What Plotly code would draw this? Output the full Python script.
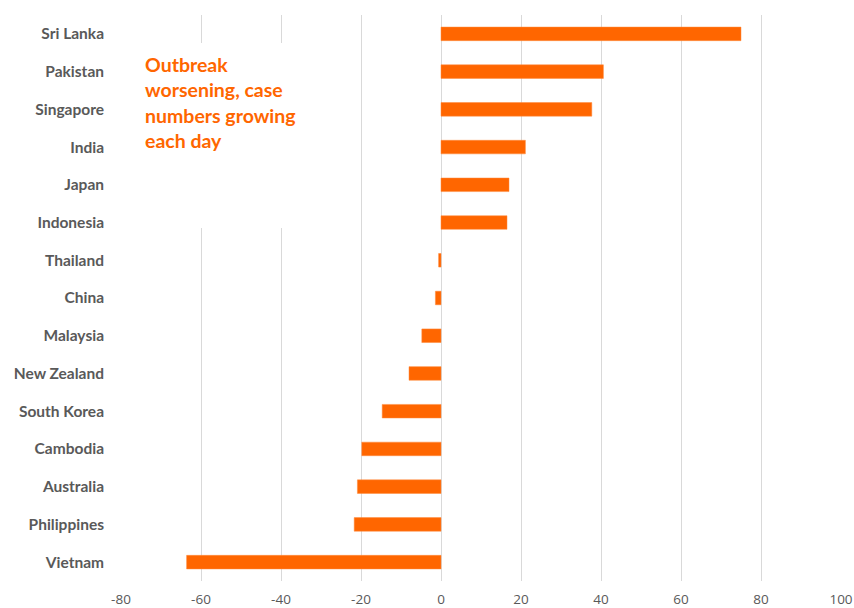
import plotly.graph_objects as go

countries = ["Sri Lanka", "Pakistan", "Singapore", "India", "Japan", "Indonesia",
             "Thailand", "China", "Malaysia", "New Zealand", "South Korea",
             "Cambodia", "Australia", "Philippines", "Vietnam"]
values = [75.0, 40.6, 37.7, 21.1, 17.0, 16.5, -0.6, -1.4, -4.8, -8.0, -14.7,
          -19.8, -20.9, -21.7, -63.6]
x_ticks = [-80, -60, -40, -20, 0, 20, 40, 60, 80, 100]
x_tick_text = ["-80", "-60", "-40", "-20", "0", "20", "40", "60", "80", "100"]
note = "Outbreak<br>worsening, case<br>numbers growing<br>each day"

PLOT_TOP, PLOT_H = 15, 566


def paper_y(px):
    return (PLOT_TOP + PLOT_H - px) / PLOT_H


fig = go.Figure(go.Bar(
    x=values, y=countries, orientation="h",
    marker=dict(color="#FF6600", line=dict(color="#FF8A3D", width=0.5)),
))

fig.update_layout(
    width=854, height=608,
    margin=dict(l=121, r=13, t=PLOT_TOP, b=608 - PLOT_TOP - PLOT_H, autoexpand=False),
    paper_bgcolor="white", plot_bgcolor="white",
    bargap=0.64,
    showlegend=False,
    xaxis=dict(
        range=[-80, 100], tickvals=x_ticks, ticktext=x_tick_text, showgrid=True,
        gridcolor="#D9D9D9", gridwidth=1, zeroline=False,
        showline=False, ticks="", automargin=False,
        tickfont=dict(family="Open Sans", size=13.5, color="#595959"),
        ticklabelstandoff=8,
    ),
    yaxis=dict(
        categoryorder="array", categoryarray=countries, autorange="reversed",
        showgrid=False, zeroline=False, showline=False, ticks="", automargin=False,
        tickfont=dict(family="Lato", size=15.5, color="#595959", weight="bold"),
        ticklabelstandoff=16,
    ),
    shapes=[dict(
        type="rect", xref="x", yref="paper", x0=-78, x1=-28,
        y0=paper_y(228), y1=paper_y(43), fillcolor="white",
        line=dict(width=0), layer="above",
    )],
    annotations=[dict(
        text=note, xref="x", yref="paper", x=-74.5, y=paper_y(51),
        xanchor="left", yanchor="top", showarrow=False, align="left",
        font=dict(family="Lato", size=19.5, color="#FF6600", weight="bold"),
    )],
)

fig.write_html("out.html", config={"displayModeBar": False},
               post_script="document.body.style.margin='0';document.body.style.overflow='hidden';")
